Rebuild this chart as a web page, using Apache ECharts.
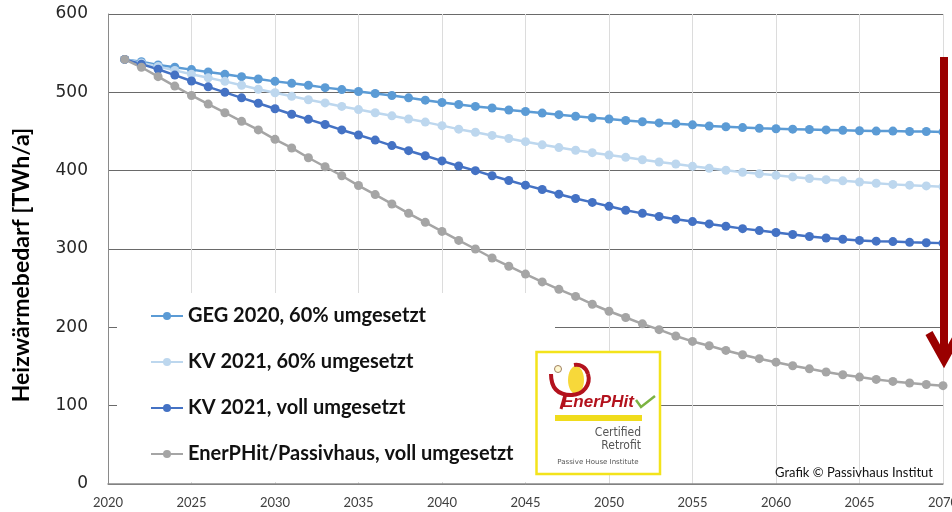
<!DOCTYPE html>
<html lang="de">

<head>
  <meta charset="UTF-8">
  <title>Heizwärmebedarf</title>
  <style>
    html, body { margin: 0; padding: 0; background: #fff; }
  </style>
</head>

<body>
  <div id="main" style="width: 952px; height: 512px;"></div>
  <script src="https://cdn.jsdelivr.net/npm/echarts@6/dist/echarts.min.js"></script>
  <script type="text/javascript">
    // Jahre (x) und Heizwärmebedarf in TWh/a
    var years = [2021, 2022, 2023, 2024, 2025, 2026, 2027, 2028, 2029, 2030,
      2031, 2032, 2033, 2034, 2035, 2036, 2037, 2038, 2039, 2040,
      2041, 2042, 2043, 2044, 2045, 2046, 2047, 2048, 2049, 2050,
      2051, 2052, 2053, 2054, 2055, 2056, 2057, 2058, 2059, 2060,
      2061, 2062, 2063, 2064, 2065, 2066, 2067, 2068, 2069, 2070];

    var geg2020 = [542, 539, 535, 532, 529, 526, 523, 520, 517, 514,
      511.5, 509, 506, 503.5, 501, 498.5, 496, 493, 490, 487,
      484.5, 482, 480, 477.5, 475.5, 473.5, 471.5, 469.5, 467.5, 466,
      464, 462.5, 461, 460, 458.5, 457, 456, 455, 454, 453.5,
      453, 452.5, 452, 451.5, 451, 450.5, 450.5, 450, 450, 449.5];

    var kv2021Teil = [542, 537.5, 533, 528, 523, 518.5, 514, 509, 504, 499.5,
      495, 490.5, 486.5, 482, 478, 474, 470, 466, 462, 457.5,
      453, 449, 445, 441, 437, 433, 429.5, 426, 423, 420,
      417, 414, 411, 408.5, 405.5, 403, 400.5, 398, 396, 394,
      392, 390, 388.5, 387, 385.5, 384, 382.5, 381.5, 380.5, 379.5];

    var kv2021Voll = [542, 536, 529.5, 522, 514.5, 507, 500, 493, 486, 479,
      472, 465.5, 459, 452, 445.5, 439, 432, 425.5, 419, 412.5,
      406, 400, 393.5, 387.5, 381.5, 376, 370, 364.5, 359.5, 354.5,
      349.5, 345.5, 341.5, 338, 335, 332, 329, 326, 323.5, 321,
      318.5, 316, 314, 312.5, 311, 310, 309.5, 308.5, 308, 307.5];

    var enerphit = [542, 532, 520, 508, 496, 485, 474, 463, 452, 440,
      429, 416.5, 405, 393.5, 381, 369.5, 357.5, 345.5, 334, 322.5,
      311, 300, 288.5, 278, 268, 258, 248.5, 239.5, 229.5, 220.5,
      212.5, 204.5, 197, 189, 182, 176.5, 170.5, 165, 160, 155.5,
      151, 147, 143, 139.5, 136.5, 133.5, 131, 129, 127, 125.5];

    var names = ['GEG 2020, 60% umgesetzt', 'KV 2021, 60% umgesetzt',
      'KV 2021, voll umgesetzt', 'EnerPHit/Passivhaus, voll umgesetzt'];
    var colors = ['#5b9bd5', '#bdd7ee', '#4472c4', '#a5a5a5'];
    var values = [geg2020, kv2021Teil, kv2021Voll, enerphit];

    function pairs(vals) {
      return years.map(function (y, i) { return [y, vals[i]]; });
    }

    var myChart = echarts.init(document.getElementById('main'));

    var red = '#b3121d';
    var narrow = 'Liberation Sans Narrow, DejaVu Sans Condensed, sans-serif';

    var option = {
      animation: false,
      backgroundColor: '#fff',
      grid: {
        left: 108, right: 9, top: 14, bottom: 28,
        containLabel: false,
        outerBoundsMode: 'none'
      },
      xAxis: {
        type: 'value',
        min: 2020, max: 2070, interval: 5,
        axisLine: { show: true, lineStyle: { color: '#8a8a8a', width: 1.5 } },
        axisTick: { show: false },
        splitLine: { show: true, lineStyle: { color: '#dcdcdc', width: 1 } },
        axisLabel: {
          margin: 12, fontFamily: 'Lato', fontSize: 13, color: '#404040',
          formatter: function (v) { return String(v); }
        }
      },
      yAxis: {
        type: 'value',
        min: 0, max: 600, interval: 100,
        axisLine: { show: true, lineStyle: { color: '#8a8a8a', width: 1 } },
        axisTick: { show: false },
        splitLine: { show: true, lineStyle: { color: '#6a6a6a', width: 1 } },
        axisLabel: { margin: 20, fontFamily: 'DejaVu Sans', fontSize: 17, color: '#262626' }
      },
      legend: {
        orient: 'vertical',
        left: 150, top: 306, padding: 0,
        itemWidth: 32, itemHeight: 10, itemGap: 26,
        data: names,
        textStyle: { fontFamily: 'Lato', fontWeight: 'bold', fontSize: 20, lineHeight: 20, color: '#111' }
      },
      graphic: {
        elements: [
          // weißer Hintergrund der Legende
          { type: 'rect', z: 1, silent: true, shape: { x: 117, y: 293, width: 438, height: 189 }, style: { fill: '#fff' } },
          // Achsentitel
          {
            type: 'text', z: 5, x: 22, y: 265, rotation: Math.PI / 2,
            style: { text: 'Heizwärmebedarf [TWh/a]', fontFamily: 'Lato', fontWeight: 'bold', fontSize: 23, fill: '#000', align: 'center', verticalAlign: 'middle' }
          },
          // roter Pfeil
          { type: 'line', z: 10, shape: { x1: 944, y1: 57, x2: 944, y2: 358 }, style: { stroke: '#9a0000', lineWidth: 8 } },
          { type: 'polyline', z: 10, shape: { points: [[929, 333], [944, 360], [959, 333]] }, style: { stroke: '#9a0000', lineWidth: 8, fill: null, lineJoin: 'miter' } },
          // Quelle
          {
            type: 'text', z: 5, x: 933, y: 473,
            style: { text: 'Grafik © Passivhaus Institut', fontFamily: 'Lato', fontSize: 13, fill: '#111', align: 'right', verticalAlign: 'middle' }
          },
          // Logo EnerPHit
          { type: 'rect', z: 10, shape: { x: 536.5, y: 352, width: 123.5, height: 122 }, style: { fill: '#fff', stroke: '#f3e31b', lineWidth: 2.5 } },
          { type: 'ellipse', z: 11, shape: { cx: 576, cy: 380, rx: 8, ry: 14 }, style: { fill: '#f7d83a' } },
          { type: 'bezierCurve', z: 12, shape: { x1: 551, y1: 374, cpx1: 551, cpy1: 388, cpx2: 558, cpy2: 395, x2: 571, y2: 395 }, style: { stroke: red, lineWidth: 4, fill: null } },
          { type: 'bezierCurve', z: 12, shape: { x1: 571, y1: 395, cpx1: 584, cpy1: 395, cpx2: 591, cpy2: 384, x2: 588, y2: 374 }, style: { stroke: red, lineWidth: 4, fill: null } },
          { type: 'bezierCurve', z: 12, shape: { x1: 588, y1: 374, cpx1: 586, cpy1: 367, cpx2: 580, cpy2: 364, x2: 574, y2: 365 }, style: { stroke: red, lineWidth: 4, fill: null } },
          { type: 'line', z: 12, shape: { x1: 565, y1: 395, x2: 561, y2: 409 }, style: { stroke: red, lineWidth: 3 } },
          { type: 'circle', z: 12, shape: { cx: 558, cy: 369, r: 3.5 }, style: { fill: '#fff8d0', stroke: '#a08060', lineWidth: 1 } },
          {
            type: 'text', z: 12, x: 562, y: 402,
            style: { text: 'EnerPHit', fontFamily: 'Liberation Sans', fontStyle: 'italic', fontWeight: 'bold', fontSize: 17, fill: red, align: 'left', verticalAlign: 'middle' }
          },
          { type: 'polyline', z: 12, shape: { points: [[636, 400], [641, 407], [655, 396]] }, style: { stroke: '#7cb342', lineWidth: 2.5, fill: null } },
          { type: 'rect', z: 12, shape: { x: 555, y: 415, width: 87, height: 6 }, style: { fill: '#f0dc1c' } },
          {
            type: 'text', z: 12, x: 641, y: 433,
            style: { text: 'Certified', fontFamily: narrow, fontSize: 12, fill: '#555', align: 'right', verticalAlign: 'middle' }
          },
          {
            type: 'text', z: 12, x: 641, y: 446,
            style: { text: 'Retrofit', fontFamily: narrow, fontSize: 12, fill: '#555', align: 'right', verticalAlign: 'middle' }
          },
          {
            type: 'text', z: 12, x: 598, y: 462,
            style: { text: 'Passive House Institute', fontFamily: 'DejaVu Sans', fontSize: 7, fill: '#555', align: 'center', verticalAlign: 'middle' }
          }
        ]
      },
      series: names.map(function (n, i) {
        return {
          name: n,
          type: 'line',
          data: pairs(values[i]),
          symbol: 'circle',
          symbolSize: 9,
          lineStyle: { width: 2.5, color: colors[i] },
          itemStyle: { color: colors[i] }
        };
      })
    };

    myChart.setOption(option);
  </script>
</body>

</html>
